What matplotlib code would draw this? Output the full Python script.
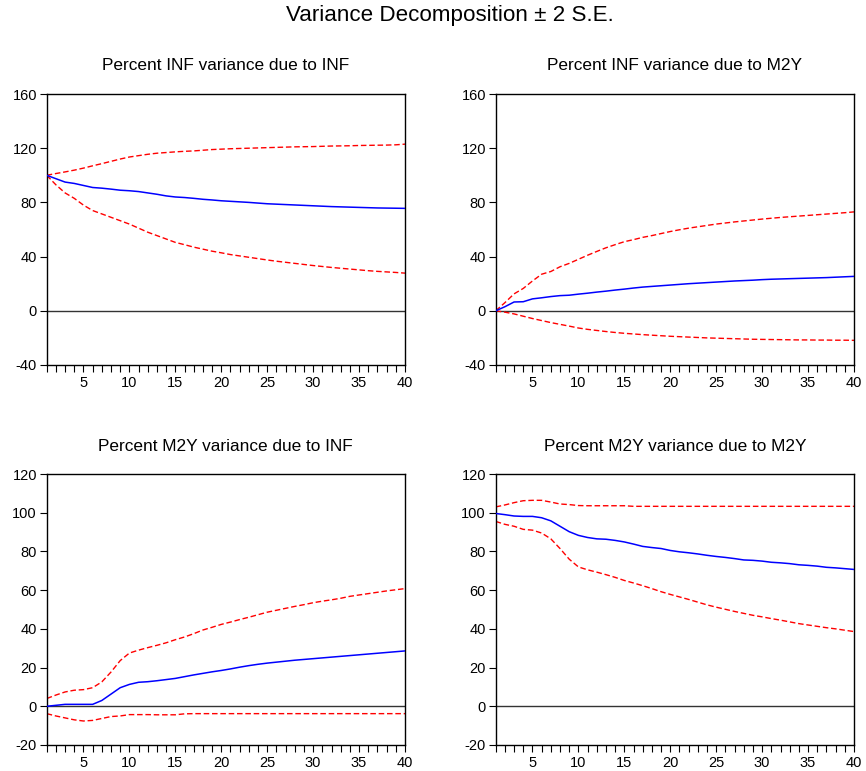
import matplotlib
matplotlib.use("Agg")
import matplotlib.pyplot as plt
from matplotlib.ticker import MultipleLocator, FixedLocator
import numpy as np

plt.rcParams['font.family'] = ['Liberation Sans', 'DejaVu Sans']
plt.rcParams['axes.unicode_minus'] = False

periods = list(range(1, 41))

# Percent INF variance due to INF
inf_inf = [100, 97.5, 95, 94, 92.5, 91, 90.5, 89.8, 89, 88.6, 88, 87, 86, 84.8, 84, 83.6, 83, 82.3, 81.8, 81.2,
           80.8, 80.4, 80, 79.5, 79, 78.7, 78.4, 78.1, 77.8, 77.5, 77.2, 76.9, 76.7, 76.5, 76.3, 76.1, 75.9, 75.8, 75.7, 75.6]
inf_inf_up = [100, 101.3, 102.5, 103.8, 105.3, 107, 108.6, 110.3, 112, 113.5, 114.5, 115.5, 116.3, 116.8, 117.3, 117.7,
              118, 118.5, 119, 119.3, 119.6, 119.8, 120, 120.2, 120.4, 120.6, 120.8, 121, 121.1, 121.2, 121.4, 121.6,
              121.7, 121.8, 122, 122.1, 122.2, 122.3, 122.5, 123]
inf_inf_lo = [100, 93, 87, 83, 78, 74, 71.5, 69, 66.5, 64, 61, 58, 55.5, 53, 50.5, 48.8, 47, 45.5, 44, 42.8, 41.5, 40.5,
              39.5, 38.5, 37.5, 36.6, 35.8, 35, 34.2, 33.4, 32.7, 32, 31.4, 30.8, 30.2, 29.6, 29.1, 28.7, 28.3, 27.8]

# Percent INF variance due to M2Y
inf_m2y = [0, 3, 6.5, 6.7, 8.8, 9.6, 10.5, 11.2, 11.5, 12.3, 13, 13.8, 14.5, 15.3, 16, 16.8, 17.5, 18, 18.5, 19, 19.5,
           20, 20.4, 20.8, 21.2, 21.6, 22, 22.3, 22.6, 23, 23.3, 23.5, 23.7, 23.9, 24.1, 24.3, 24.5, 24.8, 25.1, 25.4]
inf_m2y_up = [0, 6, 12.5, 16.5, 22, 27, 29, 32.5, 35, 38, 41, 43.8, 46.5, 48.8, 51, 52.5, 54.2, 55.5, 57, 58.5, 59.8, 61,
              62, 63, 64, 64.8, 65.6, 66.3, 67, 67.7, 68.3, 68.9, 69.4, 69.9, 70.4, 70.9, 71.4, 71.9, 72.4, 73]
inf_m2y_lo = [0, -1, -2.3, -4, -5.7, -7.2, -8.7, -10, -11.3, -12.7, -13.7, -14.5, -15.3, -16, -16.6, -17.1, -17.6, -18,
              -18.4, -18.8, -19.1, -19.4, -19.7, -20, -20.2, -20.4, -20.6, -20.8, -21, -21.1, -21.2, -21.3, -21.4,
              -21.5, -21.5, -21.6, -21.6, -21.7, -21.7, -21.8]

# Percent M2Y variance due to INF
m2y_inf = [0, 0.5, 1, 1, 1, 1, 3, 6.3, 9.6, 11.3, 12.4, 12.7, 13.2, 13.8, 14.4, 15.3, 16.2, 17, 17.8, 18.5, 19.3, 20.2,
           21, 21.7, 22.3, 22.8, 23.3, 23.8, 24.2, 24.6, 25, 25.4, 25.8, 26.2, 26.6, 27, 27.4, 27.8, 28.2, 28.6]
m2y_inf_up = [4, 5.8, 7.4, 8.3, 8.6, 9.6, 12.6, 17.7, 23.6, 27.5, 29, 30.3, 31.5, 32.8, 34.4, 35.8, 37.5, 39.4, 40.8,
              42.3, 43.5, 44.8, 46, 47.3, 48.6, 49.6, 50.6, 51.6, 52.5, 53.5, 54.3, 55, 55.8, 56.8, 57.5, 58.2, 58.9,
              59.6, 60.2, 60.8]
m2y_inf_lo = [-3.8, -5, -6, -7, -7.6, -7.3, -6.3, -5.3, -5, -4.3, -4.3, -4.3, -4.4, -4.4, -4.4, -3.9, -3.8, -3.8, -3.8,
              -3.8, -3.8, -3.8, -3.8, -3.8, -3.8, -3.8, -3.8, -3.8, -3.8, -3.8, -3.8, -3.8, -3.8, -3.8, -3.8, -3.8,
              -3.8, -3.8, -3.8, -3.8]

# Percent M2Y variance due to M2Y
m2y_m2y = [99.6, 99, 98.3, 98.1, 98.1, 97.4, 95.8, 93, 90.2, 88.3, 87.2, 86.5, 86.3, 85.7, 84.9, 83.8, 82.6, 82, 81.5,
           80.5, 79.8, 79.3, 78.7, 78, 77.4, 76.9, 76.3, 75.6, 75.4, 75, 74.4, 74.1, 73.7, 73.1, 72.8, 72.4, 71.8,
           71.5, 71.1, 70.7]
m2y_m2y_up = [103, 104, 105.2, 106.2, 106.4, 106.4, 105.5, 104.5, 104.2, 103.7, 103.6, 103.6, 103.6, 103.6, 103.6,
              103.3, 103.3, 103.3, 103.3, 103.3, 103.3, 103.3, 103.3, 103.3, 103.3, 103.3, 103.3, 103.3, 103.3, 103.3,
              103.3, 103.3, 103.3, 103.3, 103.3, 103.3, 103.3, 103.3, 103.3, 103.3]
m2y_m2y_lo = [95.5, 94, 93, 91.4, 91, 89.5, 86.5, 81.5, 76, 72, 70.5, 69.3, 68, 66.6, 65, 63.7, 62.3, 60.8, 59.2, 57.8,
              56.5, 55.2, 53.8, 52.4, 51.2, 50.1, 49, 48, 47, 46.2, 45.3, 44.5, 43.6, 42.7, 42, 41.3, 40.6, 40, 39.3,
              38.6]

titles = ["Percent INF variance due to INF", "Percent INF variance due to M2Y",
          "Percent M2Y variance due to INF", "Percent M2Y variance due to M2Y"]
main_title = "Variance Decomposition \u00b1 2 S.E."

W, H = 866, 771
fig = plt.figure(figsize=(W / 100, H / 100), dpi=100)
fig.patch.set_facecolor('white')

panels = [
    (inf_inf, inf_inf_up, inf_inf_lo, (46.7, 94, 405, 365), (-40, 160), 40, 66),
    (inf_m2y, inf_m2y_up, inf_m2y_lo, (495.7, 94, 854, 365), (-40, 160), 40, 66),
    (m2y_inf, m2y_inf_up, m2y_inf_lo, (46.7, 474, 405, 745), (-20, 120), 20, 446),
    (m2y_m2y, m2y_m2y_up, m2y_m2y_lo, (495.7, 474, 854, 745), (-20, 120), 20, 446),
]

for (mid, up, lo, (l, t, r, b), ylim, ystep, ty), title in zip(panels, titles):
    ax = fig.add_axes([l / W, 1 - b / H, (r - l) / W, (b - t) / H])
    ax.axhline(0, color='#333333', lw=1.0, zorder=1)
    ax.plot(periods, up, color='#ff0000', lw=1.0, ls=(0, (4, 2)), zorder=2)
    ax.plot(periods, lo, color='#ff0000', lw=1.0, ls=(0, (4, 2)), zorder=2)
    ax.plot(periods, mid, color='#0000ff', lw=1.1, zorder=3)
    ax.set_xlim(1, 40)
    ax.set_ylim(*ylim)
    ax.yaxis.set_major_locator(MultipleLocator(ystep))
    ax.xaxis.set_major_locator(FixedLocator([5, 10, 15, 20, 25, 30, 35, 40]))
    ax.xaxis.set_minor_locator(MultipleLocator(1))
    ax.tick_params(axis='both', which='both', direction='out', length=5, width=0.8,
                   labelsize=10.5, colors='black', pad=2)
    ax.tick_params(axis='x', which='major', pad=3)
    for s in ax.spines.values():
        s.set_linewidth(1.0)
        s.set_color('black')
    fig.text((l + r) / 2 / W, 1 - ty / H, title, ha='center', va='center', fontsize=12.4)

fig.text(450 / W, 1 - 15.5 / H, main_title, ha='center', va='center', fontsize=16.1)

fig.savefig("out.png", dpi=100, facecolor='white')
